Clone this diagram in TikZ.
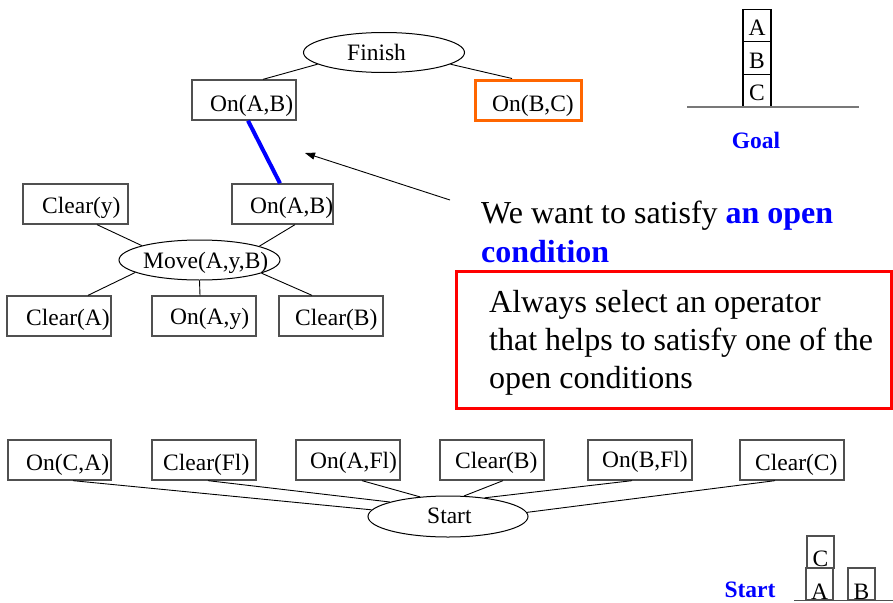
\documentclass[tikz,border=0pt]{standalone}
\usepackage{fontspec}
\setmainfont{Liberation Serif}
\usetikzlibrary{arrows.meta,shapes.geometric}
\definecolor{boxgray}{RGB}{80,80,80}
\definecolor{groundgray}{RGB}{120,120,120}
\definecolor{hlorange}{RGB}{255,102,0}
\definecolor{noteblue}{RGB}{0,0,255}
\definecolor{notered}{RGB}{255,0,0}

\begin{document}
\begin{tikzpicture}[x=1pt,y=-1pt,
  cond/.style={draw=boxgray, line width=1.3pt, rectangle, minimum width=104pt,
               minimum height=40pt, inner sep=0pt},
  openc/.style={cond, draw=hlorange, line width=3pt},
  act/.style={draw=black, line width=1pt, ellipse, inner sep=0pt,
              minimum width=161pt, minimum height=40pt},
  lbl/.style={anchor=base west, inner sep=0pt, font=\fontsize{23.5}{28}\selectfont},
  link/.style={draw=black, line width=0.9pt},
  chosen/.style={draw=noteblue, line width=4pt},
  note/.style={anchor=base west, inner sep=0pt, font=\fontsize{32}{38}\selectfont},
  blk/.style={draw=black, line width=1.2pt, rectangle, inner sep=0pt,
              minimum width=28pt, minimum height=32.3pt},
  blkl/.style={anchor=base, inner sep=0pt, font=\fontsize{23.5}{28}\selectfont},
  ground/.style={draw=groundgray, line width=2pt},
  tag/.style={anchor=base, inner sep=0pt, text=noteblue,
              font=\fontsize{23.5}{28}\selectfont\bfseries}
]
\useasboundingbox (0,0) rectangle (893,602);

% ---- goal side of the plan ----
\node[act] (fin) at (384,52.5) {};
\node[lbl] at (347,60) {Finish};
\node[cond] (oab1) at (244,100) {};
\node[lbl] at (210,111) {On(A,B)};
\node[openc, minimum width=106pt] (obc) at (528,100) {};
\node[lbl] at (492,111) {On(B,C)};
\draw[link] (fin.190.7) -- ([xshift=19pt]oab1.north);
\draw[link] (fin.350) -- ([xshift=-16pt]obc.north);

% ---- the Move step ----
\node[cond, minimum width=105pt] (cly) at (75.5,204) {};
\node[lbl] at (42,213.5) {Clear(y)};
\node[cond, minimum width=101pt] (oab2) at (282.5,204) {};
\node[lbl] at (250,213.5) {On(A,B)};
\node[act] (mov) at (199.5,260) {};
\node[lbl] at (143,268) {Move(A,y,B)};
\node[cond] (cla) at (59,316) {};
\node[lbl] at (26,325.7) {Clear(A)};
\node[cond] (oay) at (204,316) {};
\node[lbl] at (170,324.5) {On(A,y)};
\node[cond] (clb) at (331,316) {};
\node[lbl] at (295,325.7) {Clear(B)};

\draw[chosen] ([xshift=4pt]oab1.south) -- ([xshift=-2.5pt]oab2.north);
\draw[link] ([xshift=21.5pt]cly.south) -- (mov.166.1);
\draw[link] ([xshift=12.5pt]oab2.south) -- (mov.13.5);
\draw[link] (mov.191.4) -- ([xshift=29pt]cla.north);
\draw[link] (mov.south) -- ([xshift=-4pt]oay.north);
\draw[link] (mov.348.8) -- ([xshift=-19pt]clb.north);

% ---- pointer to the open condition ----
\coordinate (arrtail) at (450,200);
\coordinate (arrtip) at (305,153);
\draw[link, -{Triangle[length=10pt,width=7pt]}] (arrtail) -- (arrtip);

\node[note] (n1) at (481,223.5) {We want to satisfy \textcolor{noteblue}{\textbf{an open}}};
\node[note] (n2) at (481,262.5) {\textcolor{noteblue}{\textbf{condition}}};

\node[draw=notered, line width=3pt, rectangle, inner sep=0pt,
      minimum width=435.5pt, minimum height=137pt] (rule) at (673.75,339.5) {};
\node[note] at (489,312) {Always select an operator};
\node[note] at (489,350) {that helps to satisfy one of the};
\node[note] at (489,388) {open conditions};

% ---- initial state ----
\node[act, minimum width=160pt, minimum height=41pt] (start) at (448,516.5) {};
\node[lbl] at (427,523) {Start};
\node[cond, minimum width=103pt] (oca) at (59.5,460) {};
\node[lbl] at (26,470) {On(C,A)};
\node[cond] (clf) at (204,460) {};
\node[lbl] at (163,470) {Clear(Fl)};
\node[cond] (oaf) at (348,460) {};
\node[lbl] at (310,468.5) {On(A,Fl)};
\node[cond] (clb2) at (492,460) {};
\node[lbl] at (455,468.5) {Clear(B)};
\node[cond] (obf) at (640,460) {};
\node[lbl] at (602,467.5) {On(B,Fl)};
\node[cond] (clc) at (792,460) {};
\node[lbl] at (755,470) {Clear(C)};

\draw[link] ([xshift=13.5pt]oca.south) -- (start.175.8);
\draw[link] ([xshift=4pt]clf.south) -- (start.166.2);
\draw[link] ([xshift=14pt]oaf.south) -- (start.145.7);
\draw[link] ([xshift=11pt]clb2.south) -- (start.52.4);
\draw[link] ([xshift=-8pt]obf.south) -- (start.27.9);
\draw[link] ([xshift=-17pt]clc.south) -- (start.3.9);

% ---- goal block world ----
\node[blk] (ga) at (757,25.7) {};
\node[blk] (gb) at (757,58) {};
\node[blk] (gc) at (757,90.3) {};
\node[blkl] at (757,36) {A};
\node[blkl] at (757,68) {B};
\node[blkl] at (757,100) {C};
\draw[ground] (687,106.5) -- (859,106.5);
\node[tag] at (756,148) {Goal};

% ---- start block world ----
\node[blk, draw=boxgray, minimum width=27pt, minimum height=32pt] (sc) at (820.5,552) {};
\node[blk, draw=boxgray, minimum width=27pt, minimum height=32pt] (sa) at (819.5,584) {};
\node[blk, draw=boxgray, minimum width=27pt, minimum height=32pt] (sb) at (861.5,584) {};
\node[blkl] at (820.5,566.5) {C};
\node[blkl] at (819.5,599) {A};
\node[blkl] at (861.5,599) {B};
\draw[draw=boxgray, line width=1.5pt] (794,600.5) -- (893,600.5);
\node[tag] at (750,597) {Start};
\end{tikzpicture}
\end{document}
